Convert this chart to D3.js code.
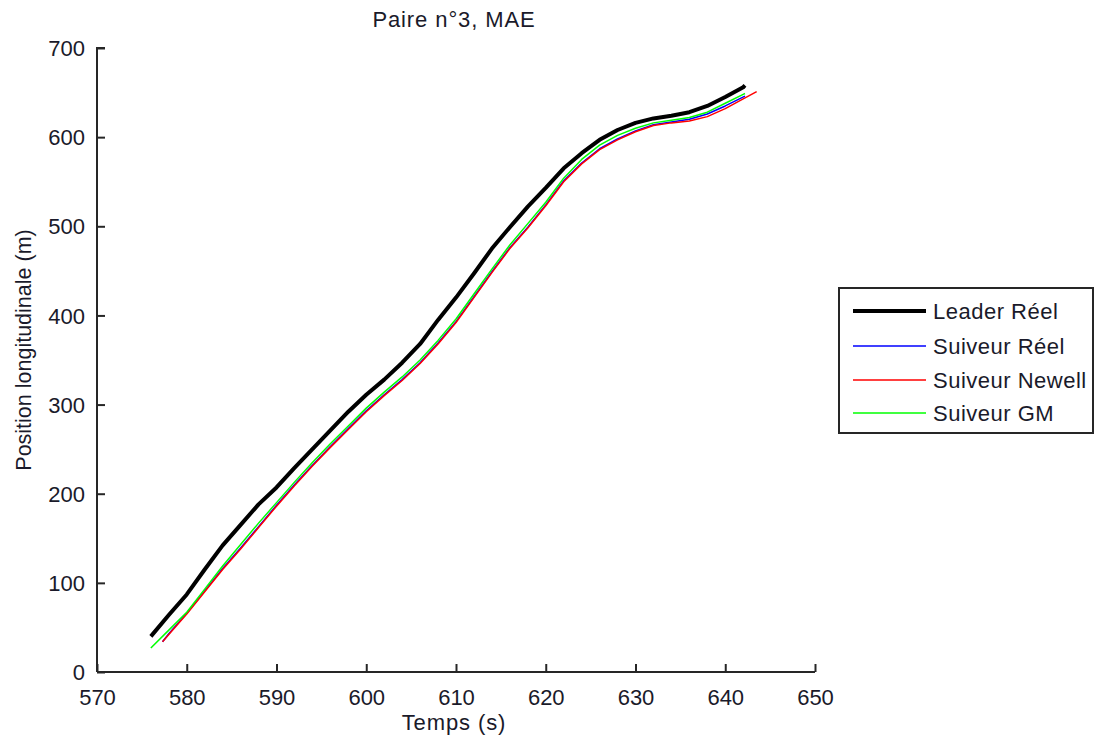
<!DOCTYPE html>
<html>
<head>
<meta charset="utf-8">
<script src="https://cdn.jsdelivr.net/npm/d3@7"></script>
<style>
  body { margin: 0; background: #fff; }
  text { font-family: "Liberation Sans", Arial, sans-serif; fill: #1a1a2a; }
</style>
</head>
<body>
<svg id="chart" width="1097" height="745"></svg>
<script>
// ---- data ----
const title = "Paire n°3, MAE";
const xLabel = "Temps (s)";
const yLabel = "Position longitudinale (m)";
const xTicks = [570, 580, 590, 600, 610, 620, 630, 640, 650];
const yTicks = [0, 100, 200, 300, 400, 500, 600, 700];
const seriesNames = ["Leader Réel", "Suiveur Réel", "Suiveur Newell", "Suiveur GM"];

const leaderT = [576, 578, 580, 582, 584, 586, 588, 590, 592, 594, 596, 598, 600, 602, 604, 606, 608, 610, 612, 614, 616, 618, 620, 622, 624, 626, 628, 630, 632, 634, 636, 638, 640, 642, 642.2];
const leaderV = [40, 64, 87, 115, 142, 165, 188, 207, 229, 250, 271, 292, 311, 328, 347, 368, 395, 420, 447, 475, 499, 522, 543, 565, 582, 597, 608, 616, 621, 624, 628, 635, 645, 656, 658];

const reelT = [577.3, 578, 580, 582, 584, 586, 588, 590, 592, 594, 596, 598, 600, 602, 604, 606, 608, 610, 612, 614, 616, 618, 620, 622, 624, 626, 628, 630, 632, 634, 636, 638, 640, 642.2];
const reelV = [34, 43, 66, 91, 116, 139, 163, 187, 210, 232, 253, 273, 293, 311, 328, 347, 369, 393, 421, 449, 476, 499, 524, 551, 571, 587, 598, 607, 614, 617, 620, 626, 635, 646];

const newellT = [577.3, 578, 580, 582, 584, 586, 588, 590, 592, 594, 596, 598, 600, 602, 604, 606, 608, 610, 612, 614, 616, 618, 620, 622, 624, 626, 628, 630, 632, 634, 636, 638, 640, 642, 643.5];
const newellV = [34, 42, 65, 90, 115, 138, 162, 186, 209, 231, 252, 272, 292, 310, 327, 346, 368, 392, 420, 448, 475, 498, 523, 550, 570, 586, 597, 606, 613, 616, 618, 623, 632, 643, 651];

const gmT = [576, 578, 580, 582, 584, 586, 588, 590, 592, 594, 596, 598, 600, 602, 604, 606, 608, 610, 612, 614, 616, 618, 620, 622, 624, 626, 628, 630, 632, 634, 636, 638, 640, 642, 642.2];
const gmV = [27, 47, 67, 93, 119, 143, 167, 190, 213, 235, 256, 276, 296, 314, 331, 350, 372, 396, 424, 452, 479, 503, 527, 554, 575, 591, 602, 610, 616, 619, 622, 628, 638, 648, 649];

const seriesColors = ["#000000", "#0000ff", "#ff0000", "#00ff00"];
const seriesWidths = [4, 1.5, 1.5, 1.5];

// ---- chart ----
const svg = d3.select("#chart");
const x = d3.scaleLinear().domain([570, 650]).range([97, 815]);
const y = d3.scaleLinear().domain([0, 700]).range([672, 48]);

const series = [
  leaderT.map((t, i) => [t, leaderV[i]]),
  reelT.map((t, i) => [t, reelV[i]]),
  newellT.map((t, i) => [t, newellV[i]]),
  gmT.map((t, i) => [t, gmV[i]])
];

const line = d3.line().x(d => x(d[0])).y(d => y(d[1]));

series.forEach((s, i) => {
  svg.append("path")
    .datum(s)
    .attr("d", line)
    .attr("fill", "none")
    .attr("stroke", seriesColors[i])
    .attr("stroke-width", seriesWidths[i])
    .attr("stroke-linejoin", "round");
});

// axes
const xAxis = d3.axisBottom(x).tickValues(xTicks).tickSize(-8).tickPadding(12).tickFormat(d3.format("d"));
const yAxis = d3.axisLeft(y).tickValues(yTicks).tickSize(-8).tickPadding(12).tickFormat(d3.format("d"));

const gx = svg.append("g").attr("transform", "translate(0,672)").call(xAxis);
const gy = svg.append("g").attr("transform", "translate(97,0)").call(yAxis);

[gx, gy].forEach(g => {
  g.select(".domain").attr("stroke", "#262626").attr("stroke-width", 2);
  g.selectAll(".tick line").attr("stroke", "#262626").attr("stroke-width", 2);
  g.selectAll(".tick text")
    .style("font-family", "'Liberation Sans', Arial, sans-serif")
    .style("font-size", "22px")
    .attr("fill", "#1a1a2a");
});
gy.select(".domain").attr("d", "M0,672V48H8");
gx.select(".domain").attr("d", "M0,0H" + (815 - 97)).attr("transform", "translate(97,0)");
gx.selectAll(".tick text").attr("dy", "0.95em");
gy.selectAll(".tick text").attr("dy", "0.35em");

// title and labels
svg.append("text").attr("x", 454).attr("y", 27).attr("text-anchor", "middle")
  .style("font-size", "22px").style("letter-spacing", "0.9px").text(title);
svg.append("text").attr("x", 454).attr("y", 730).attr("text-anchor", "middle")
  .style("font-size", "22px").style("letter-spacing", "0.9px").text(xLabel);
svg.append("text").attr("transform", "translate(31,350) rotate(-90)").attr("text-anchor", "middle")
  .style("font-size", "21.5px").text(yLabel);

// legend
const lg = svg.append("g");
lg.append("rect").attr("x", 839).attr("y", 288).attr("width", 254).attr("height", 145)
  .attr("fill", "#fff").attr("stroke", "#262626").attr("stroke-width", 2);
const rowY = [311, 346, 380, 413];
seriesNames.forEach((n, i) => {
  lg.append("line").attr("x1", 853).attr("x2", 926).attr("y1", rowY[i]).attr("y2", rowY[i])
    .attr("stroke", seriesColors[i]).attr("stroke-width", seriesWidths[i]);
  lg.append("text").attr("x", 933).attr("y", rowY[i]).attr("dy", "0.35em")
    .style("font-size", "22px").style("letter-spacing", "0.5px").text(n);
});
</script>
</body>
</html>
